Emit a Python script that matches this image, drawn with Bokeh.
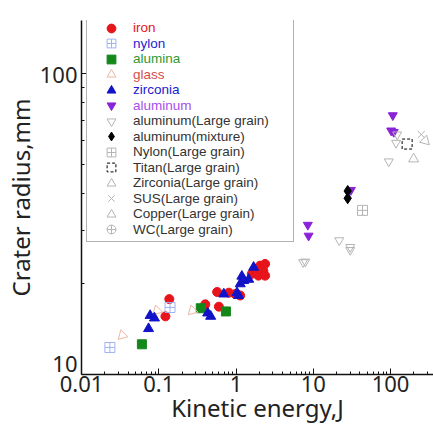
import math
from bokeh.plotting import figure
from bokeh.models import Legend, LegendItem, FixedTicker, Range1d
from bokeh.embed import file_html
from bokeh.resources import INLINE

# ---------------- data ----------------
iron_x = [0.122, 0.137, 0.40, 0.60, 0.57, 0.81, 0.98, 1.13, 1.6, 1.77, 1.95, 2.05, 2.26, 2.38, 2.38]
iron_y = [15.6, 17.8, 17.1, 16.8, 18.8, 18.7, 18.5, 18.3, 21.6, 22.4, 21.3, 23.0, 22.1, 21.3, 23.3]

nylon_x = [0.0233, 0.14]
nylon_y = [12.3, 16.7]

alumina_x = [0.0605, 0.35, 0.74]
alumina_y = [12.6, 16.6, 16.2]

glass_x = [0.0338, 0.095, 0.273]
glass_y = [13.5, 16.3, 16.3]

zirconia_x = [0.0738, 0.0773, 0.088, 0.43, 0.47, 0.695, 1.03, 1.08, 1.135, 1.19, 1.26, 1.46, 1.69]
zirconia_y = [14.2, 15.7, 15.4, 16.0, 15.6, 18.5, 18.7, 18.3, 20.0, 21.2, 20.5, 20.7, 22.7]

aluminum_x = [8.5, 8.7, 30.7, 107, 102, 110]
aluminum_y = [31.4, 28.9, 41.0, 72.6, 64.6, 63.9]

al_lg_x = [7.4, 7.9, 21.7, 30.1, 30.1, 122, 118, 95]
al_lg_y = [23.6, 23.7, 27.9, 26.5, 25.9, 62.7, 58.8, 51.0]

al_mix_x = [27.9, 27.9]
al_mix_y = [40.7, 38.5]

nylon_lg_x = [43.4]
nylon_lg_y = [35.1]

titan_lg_x = [164]
titan_lg_y = [58.3]

zirc_lg_x = [199]
zirc_lg_y = [52.0]

sus_lg_x = [250]
sus_lg_y = [62.7]

copper_lg_x = [281]
copper_lg_y = [59.8]

# no WC point is visible in the (cropped) reference
wc_lg_x = [float("nan")]
wc_lg_y = [float("nan")]

x_major = [0.01, 0.1, 1, 10, 100]
x_labels = ["0.01", "0.1", "1", "10", "100"]
y_major = [10, 100]
y_labels = ["10", "100"]
y_minor = [20, 30, 40, 50, 60, 70, 80, 90]

FONT = "Noto Sans"
LEG_FONT = "Liberation Sans"
LG = "#b4b4b4"

series = [
    ("iron", iron_x, iron_y, dict(marker="circle", size=9, fill_color="#e8141b", line_color="#e8141b"), "#e8141b"),
    ("nylon", nylon_x, nylon_y, dict(marker="square_cross", size=10, fill_color=None, line_color="#9fb2ee"), "#2424d0"),
    ("alumina", alumina_x, alumina_y, dict(marker="square", size=9, fill_color="#13871a", line_color="#13871a"), "#2f9a2f"),
    ("glass", glass_x, glass_y, dict(marker="triangle", size=10, angle=2.356, fill_color=None, line_color="#f0b4a0"), "#d84c4c"),
    ("zirconia", zirconia_x, zirconia_y, dict(marker="triangle", size=10, fill_color="#1212c8", line_color="#1212c8"), "#1a1ad0"),
    ("aluminum", aluminum_x, aluminum_y, dict(marker="inverted_triangle", size=9, fill_color="#8a22d8", line_color="#8a22d8"), "#a64ee8"),
    ("aluminum(Large grain)", al_lg_x, al_lg_y, dict(marker="inverted_triangle", size=9, fill_color=None, line_color=LG), "#333333"),
    ("aluminum(mixture)", al_mix_x, al_mix_y, dict(marker="diamond", size=11, fill_color="black", line_color="black"), "#333333"),
    ("Nylon(Large grain)", nylon_lg_x, nylon_lg_y, dict(marker="square_cross", size=10, fill_color=None, line_color=LG), "#333333"),
    ("Titan(Large grain)", titan_lg_x, titan_lg_y, dict(marker="square", size=10, fill_color=None, line_color="black", line_dash="3 2"), "#333333"),
    ("Zirconia(Large grain)", zirc_lg_x, zirc_lg_y, dict(marker="triangle", size=10, fill_color=None, line_color=LG), "#333333"),
    ("SUS(Large grain)", sus_lg_x, sus_lg_y, dict(marker="x", size=10, line_color=LG), "#333333"),
    ("Copper(Large grain)", copper_lg_x, copper_lg_y, dict(marker="triangle", size=10, angle=-2.356, fill_color=None, line_color=LG), "#333333"),
    ("WC(Large grain)", wc_lg_x, wc_lg_y, dict(marker="circle_cross", size=10, fill_color=None, line_color=LG), "#333333"),
]

p = figure(width=433, height=427, x_axis_type="log", y_axis_type="log",
           x_range=Range1d(0.01, 360), y_range=Range1d(10, 150),
           output_backend="svg", toolbar_location=None,
           min_border_left=78, min_border_right=0, min_border_top=20, min_border_bottom=53)
p.outline_line_color = None
p.grid.visible = False
p.background_fill_color = "white"
p.border_fill_color = "white"

# axes
for ax in (p.xaxis[0], p.yaxis[0]):
    ax.axis_line_color = "#111111"
    ax.axis_line_width = 1.5
    ax.major_tick_line_color = "#111111"
    ax.minor_tick_line_color = "#111111"
    ax.major_tick_in = 6
    ax.major_tick_out = 0
    ax.minor_tick_in = 3
    ax.minor_tick_out = 0
    ax.major_label_text_font = FONT
    ax.major_label_text_font_size = "22px"
    ax.major_label_text_color = "#222222"
    ax.axis_label_text_font = FONT
    ax.axis_label_text_font_size = "24px"
    ax.axis_label_text_font_style = "normal"
    ax.axis_label_text_color = "#222222"

x_minor = [m * d for d in x_major[:-1] for m in range(2, 10)] + [200, 300]
p.xaxis[0].ticker = FixedTicker(ticks=x_major, minor_ticks=x_minor)
p.yaxis[0].ticker = FixedTicker(ticks=y_major, minor_ticks=y_minor)
p.xaxis[0].major_label_overrides = {v: t for v, t in zip(x_major, x_labels)}
# the lowest y label sits slightly above its tick in the reference
p.yaxis[0].major_label_overrides = {y_major[0]: y_labels[0] + "\n ", y_major[1]: y_labels[1]}
p.yaxis[0].major_label_text_line_height = 0.8
p.xaxis[0].axis_label = "Kinetic energy,J"
p.yaxis[0].axis_label = "Crater radius,mm"
p.xaxis[0].major_label_standoff = 1
p.xaxis[0].axis_label_standoff = -4
p.yaxis[0].major_label_standoff = 4
p.yaxis[0].axis_label_standoff = 0

renderers = []
for name, xs, ys, style, tcolor in series:
    renderers.append(p.scatter(xs, ys, **style))

# legend frame
dummy = p.scatter([], [], alpha=0)
box = Legend(items=[LegendItem(label=" ", renderers=[dummy])], location=(5, 132),
             padding=0, spacing=0, margin=0, glyph_width=1, glyph_height=233,
             label_height=233, label_width=205, label_standoff=0,
             label_text_font_size="6px",
             border_line_color="#666666", border_line_width=1.5,
             background_fill_color="white", background_fill_alpha=1.0)
p.add_layout(box)

for i, ((name, xs, ys, style, tcolor), r) in enumerate(zip(series, renderers)):
    yc = 27.8 + i * 15.5
    lg = Legend(items=[LegendItem(label=name, renderers=[r])], location=(19, 374 - (yc + 11)),
                padding=0, spacing=0, margin=0, glyph_width=22, glyph_height=22,
                label_height=14, label_standoff=11, label_text_font=LEG_FONT,
                label_text_font_size="13.5px", label_text_color=tcolor,
                border_line_color=None, background_fill_alpha=0)
    p.add_layout(lg)

open("out.html", "w").write(file_html(p, INLINE))
